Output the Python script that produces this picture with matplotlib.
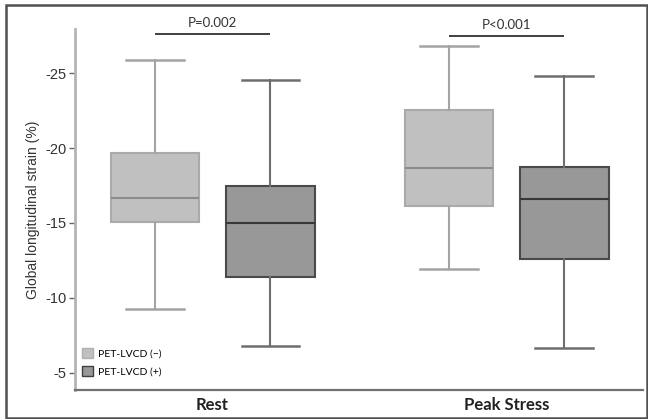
import matplotlib.pyplot as plt
from matplotlib.patches import Patch, Rectangle

# global longitudinal strain (%), five-number summaries per group
groups = ["Rest", "Peak Stress"]
lvcd_neg = [
    dict(whislo=-9.26, q1=-15.05, med=-16.65, q3=-19.66, whishi=-25.9),
    dict(whislo=-11.91, q1=-16.16, med=-18.69, q3=-22.55, whishi=-26.82),
]
lvcd_pos = [
    dict(whislo=-6.78, q1=-11.41, med=-14.98, q3=-17.49, whishi=-24.55),
    dict(whislo=-6.63, q1=-12.62, med=-16.6, q3=-18.72, whishi=-24.84),
]
p_labels = ["P=0.002", "P<0.001"]
p_heights = [-27.63, -27.51]
yticks = [-25, -20, -15, -10, -5]

LIGHT = "#c0c0c0"
DARK = "#989898"

fig = plt.figure(figsize=(6.48, 4.19), dpi=100)
ax = fig.add_axes([0.1157, 0.0692, 0.8765, 0.8609])

centers = [1, 2]
off = 0.197
width = 0.30


def draw(stats, positions, fill, edge, whisk, med):
    for s in stats:
        s["fliers"] = []
    ax.bxp(stats, positions=positions, widths=width, capwidths=0.197,
           patch_artist=True, showfliers=False, manage_ticks=False,
           boxprops=dict(facecolor=fill, edgecolor=edge, linewidth=1.5),
           whiskerprops=dict(color=whisk, linewidth=1.5),
           capprops=dict(color=whisk, linewidth=1.8),
           medianprops=dict(color=med, linewidth=1.5))


draw(lvcd_neg, [c - off for c in centers], LIGHT, "#aaaaaa", "#a4a4a4", "#8c8c8c")
draw(lvcd_pos, [c + off for c in centers], DARK, "#4a4a4a", "#6e6e6e", "#383838")

# significance brackets
for c, lab, h in zip(centers, p_labels, p_heights):
    ax.plot([c - off, c + off], [h, h], color="#404040", lw=1.4, solid_capstyle="butt")
    ax.text(c, h - 0.3, lab, ha="center", va="bottom", fontsize=9.5,
            family="Lato", color="#333333")

ax.set_xlim(0.532, 2.464)
ax.set_ylim(-3.84, -27.94)
ax.set_yticks(yticks)
ax.set_yticklabels([str(t) for t in yticks], fontsize=10.5, family="Liberation Sans",
                   color="#333333")
ax.set_xticks(centers)
ax.set_xticklabels(groups, fontsize=12, fontweight="bold", family="Lato",
                   color="#222222")
ax.tick_params(axis="x", length=0, pad=5)
ax.tick_params(axis="y", length=4, width=1, color="#666666", pad=2)
ax.set_ylabel("Global longitudinal strain (%)", fontsize=10,
              family="Liberation Sans", color="#333333", labelpad=4)

for side in ["top", "right"]:
    ax.spines[side].set_visible(False)
ax.spines["left"].set_color("#b4b4b4")
ax.spines["left"].set_linewidth(2)
ax.spines["bottom"].set_color("#707070")
ax.spines["bottom"].set_linewidth(1.6)

handles = [Patch(facecolor=LIGHT, edgecolor="#b0b0b0", label="PET-LVCD (\u2212)"),
           Patch(facecolor=DARK, edgecolor="#404040", label="PET-LVCD (+)")]
ax.legend(handles=handles, loc="lower left", frameon=False,
          prop=dict(family="Lato", size=7.5), handlelength=1.1, handleheight=1.1,
          handletextpad=0.4, labelspacing=0.7, borderaxespad=0.0,
          bbox_to_anchor=(0.005, 0.025))

# frame around the whole figure
fig.patches.append(Rectangle((5.5 / 648, 1.0 / 419), 641.5 / 648, 412.5 / 419,
                             transform=fig.transFigure, fill=False,
                             edgecolor="#505050", linewidth=1.8))

fig.savefig("out.png", dpi=100)
